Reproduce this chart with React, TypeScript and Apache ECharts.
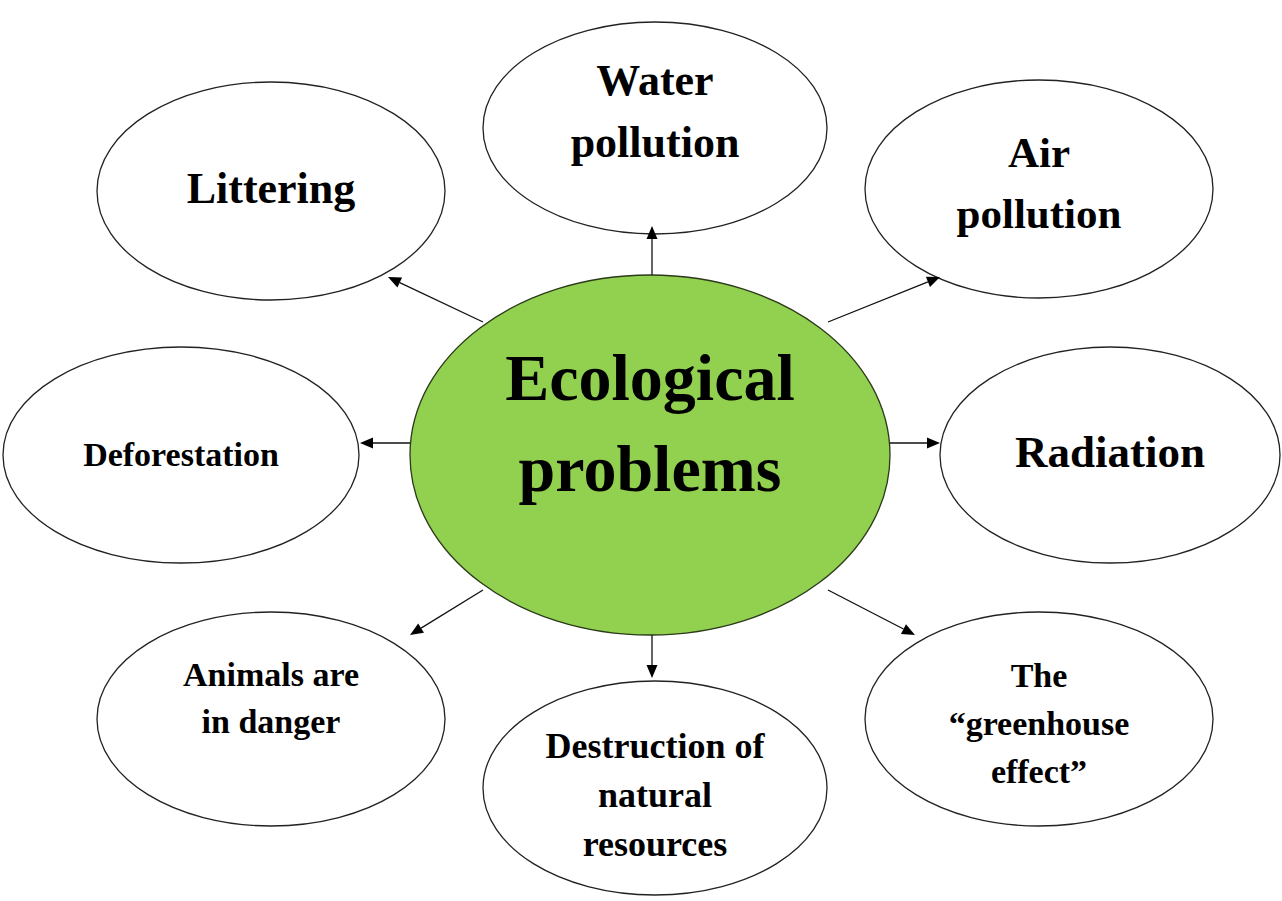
import React, { useEffect, useRef } from "react";
import * as echarts from "echarts";

// Texts of the diagram
const centerLabel = ["Ecological", "problems"];
const nodeLabels = [
  ["Water", "pollution"],
  ["Littering"],
  ["Air", "pollution"],
  ["Deforestation"],
  ["Radiation"],
  ["Animals are", "in danger"],
  ["Destruction of", "natural", "resources"],
  ["The", "\u201Cgreenhouse", "effect\u201D"],
];

// Layout (positions / sizes)
const centerShape = { cx: 650, cy: 455, rx: 240, ry: 180, fs: 66, lh: 91, ty: 423 };
const nodeShapes = [
  { cx: 655, cy: 128, rx: 172, ry: 106, fs: 44, lh: 62, ty: 111 },
  { cx: 271, cy: 191, rx: 174, ry: 109, fs: 44, lh: 60, ty: 188 },
  { cx: 1039, cy: 189, rx: 174, ry: 109, fs: 43, lh: 61, ty: 183 },
  { cx: 181, cy: 455, rx: 178, ry: 108, fs: 34, lh: 48, ty: 454 },
  { cx: 1110, cy: 455, rx: 170, ry: 108, fs: 45, lh: 48, ty: 452 },
  { cx: 271, cy: 719, rx: 174, ry: 107, fs: 34, lh: 47, ty: 698 },
  { cx: 655, cy: 788, rx: 172, ry: 107, fs: 36, lh: 49, ty: 795 },
  { cx: 1039, cy: 719, rx: 174, ry: 107, fs: 34, lh: 48, ty: 723 },
];
const arrows = [
  [652, 275, 652, 226],
  [483, 322, 388, 277],
  [828, 322, 940, 277],
  [410, 443, 360, 443],
  [890, 443, 940, 443],
  [483, 590, 410, 635],
  [652, 635, 652, 678],
  [828, 590, 915, 635],
];

const FONT = '"Liberation Serif", "Times New Roman", serif';

function textLines(lines: string[], cx: number, cy: number, fs: number, lh: number) {
  const n = lines.length;
  return lines.map((t, i) => ({
    type: "text",
    x: cx,
    y: cy + (i - (n - 1) / 2) * lh,
    z: 10,
    style: {
      text: t,
      fontFamily: FONT,
      fontWeight: "bold",
      fontSize: fs,
      fill: "#000",
      align: "center",
      verticalAlign: "middle",
    },
  }));
}

export default function App() {
  const ref = useRef<HTMLDivElement>(null);
  useEffect(() => {
    const chart = echarts.init(ref.current!, null, { renderer: "svg" });
    const elements: any[] = [];
    nodeShapes.forEach((s, i) => {
      elements.push({
        type: "ellipse",
        shape: { cx: s.cx, cy: s.cy, rx: s.rx, ry: s.ry },
        style: { fill: "#fff", stroke: "#222", lineWidth: 1.3 },
        z: 1,
      });
      elements.push(...textLines(nodeLabels[i], s.cx, s.ty, s.fs, s.lh));
    });
    elements.push({
      type: "ellipse",
      shape: { cx: centerShape.cx, cy: centerShape.cy, rx: centerShape.rx, ry: centerShape.ry },
      style: { fill: "#92D050", stroke: "#2a3a1a", lineWidth: 1.3 },
      z: 2,
    });
    elements.push(...textLines(centerLabel, centerShape.cx, centerShape.ty, centerShape.fs, centerShape.lh));
    arrows.forEach(([x1, y1, x2, y2]) => {
      const dx = x2 - x1, dy = y2 - y1;
      const len = Math.sqrt(dx * dx + dy * dy);
      const ux = dx / len, uy = dy / len;
      const hl = 13, hw = 5.5;
      const bx = x2 - ux * hl, by = y2 - uy * hl;
      elements.push({
        type: "line",
        shape: { x1, y1, x2: bx, y2: by },
        style: { stroke: "#111", lineWidth: 1.3 },
        z: 3,
      });
      elements.push({
        type: "polygon",
        shape: {
          points: [
            [x2, y2],
            [bx - uy * hw, by + ux * hw],
            [bx + uy * hw, by - ux * hw],
          ],
        },
        style: { fill: "#000" },
        z: 3,
      });
    });
    chart.setOption({
      animation: false,
      backgroundColor: "#fff",
      graphic: { elements },
    });
    return () => chart.dispose();
  }, []);
  return <div ref={ref} style={{ width: 1282, height: 901, position: "absolute", left: 0, top: 0 }} />;
}
